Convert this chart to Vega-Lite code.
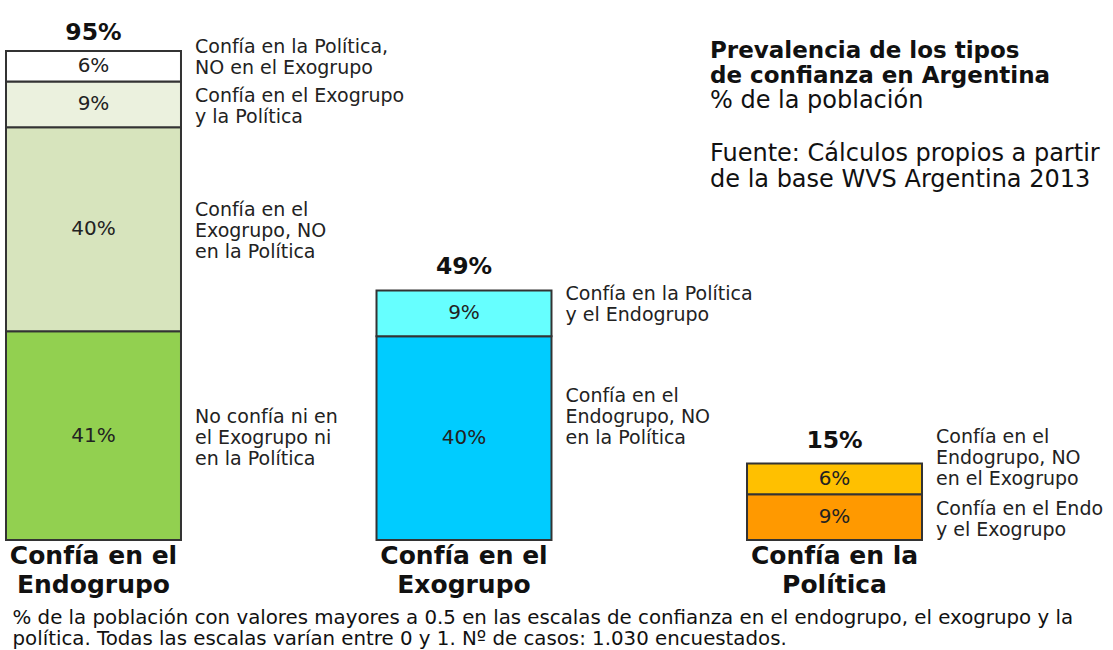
{
  "$schema": "https://vega.github.io/schema/vega-lite/v6.json",
  "width": 916,
  "height": 540,
  "autosize": {"type": "none"},
  "padding": {"left": 6, "right": 191, "top": 0, "bottom": 110},
  "background": "white",
  "config": {"view": {"stroke": null}, "font": "DejaVu Sans"},
  "datasets": {
    "segmentos": [
      {"categoria": "Confía en el|Endogrupo", "tipo": "No confía ni en|el Exogrupo ni|en la Política", "valor": 41, "orden": 1},
      {"categoria": "Confía en el|Endogrupo", "tipo": "Confía en el|Exogrupo, NO|en la Política", "valor": 40, "orden": 2},
      {"categoria": "Confía en el|Endogrupo", "tipo": "Confía en el Exogrupo|y la Política", "valor": 9, "orden": 3},
      {"categoria": "Confía en el|Endogrupo", "tipo": "Confía en la Política,|NO en el Exogrupo", "valor": 6, "orden": 4},
      {"categoria": "Confía en el|Exogrupo", "tipo": "Confía en el|Endogrupo, NO|en la Política", "valor": 40, "orden": 1},
      {"categoria": "Confía en el|Exogrupo", "tipo": "Confía en la Política|y el Endogrupo", "valor": 9, "orden": 2},
      {"categoria": "Confía en la|Política", "tipo": "Confía en el Endo|y el Exogrupo", "valor": 9, "orden": 1},
      {"categoria": "Confía en la|Política", "tipo": "Confía en el|Endogrupo, NO|en el Exogrupo", "valor": 6, "orden": 2}
    ],
    "totales": [
      {"categoria": "Confía en el|Endogrupo", "total": 95},
      {"categoria": "Confía en el|Exogrupo", "total": 49},
      {"categoria": "Confía en la|Política", "total": 15}
    ]
  },
  "title": {
    "text": ["Prevalencia de los tipos", "de confianza en Argentina"],
    "subtitle": ["% de la población", "\u200b", "Fuente: Cálculos propios a partir", "de la base WVS Argentina 2013"],
    "anchor": "start",
    "frame": "group",
    "dx": 704,
    "dy": 192,
    "offset": 0,
    "fontSize": 23,
    "fontWeight": "bold",
    "color": "#111",
    "lineHeight": 25,
    "subtitleFontSize": 24,
    "subtitleColor": "#111",
    "subtitleLineHeight": 26.5,
    "subtitlePadding": 1
  },
  "encoding": {
    "x": {
      "field": "categoria",
      "type": "nominal",
      "sort": null,
      "scale": {
        "domain": ["Confía en el|Endogrupo", "Confía en el|Exogrupo", "Confía en la|Política"],
        "paddingInner": 0.5277,
        "paddingOuter": 0
      },
      "axis": {
        "domain": false,
        "ticks": false,
        "labelAngle": 0,
        "labelExpr": "split(datum.label, '|')",
        "labelFontSize": 25,
        "labelFontWeight": "bold",
        "labelColor": "#111",
        "labelLineHeight": 29,
        "labelBaseline": "top",
        "labelPadding": 3,
        "labelOverlap": false,
        "labelLimit": 0,
        "title": ["% de la población con valores mayores a 0.5 en las escalas de confianza en el endogrupo, el exogrupo y la", "política. Todas las escalas varían entre 0 y 1. Nº de casos: 1.030 encuestados."],
        "titleFontSize": 19.8,
        "titleFontWeight": "normal",
        "titleColor": "#111",
        "titleAnchor": "start",
        "titleAlign": "left",
        "titleX": 6,
        "titleLineHeight": 21.5,
        "titlePadding": 10
      }
    }
  },
  "layer": [
    {
      "data": {"name": "segmentos"},
      "transform": [
        {"stack": "valor", "groupby": ["categoria"], "sort": [{"field": "orden"}], "as": ["y0", "y1"]}
      ],
      "mark": {"type": "bar", "stroke": "#333", "strokeWidth": 2},
      "encoding": {
        "y": {"field": "y1", "type": "quantitative", "scale": {"domain": [0, 106], "nice": false, "zero": true}, "axis": null},
        "y2": {"field": "y0"},
        "color": {
          "field": "tipo",
          "type": "nominal",
          "legend": null,
          "scale": {
            "domain": [
              "No confía ni en|el Exogrupo ni|en la Política",
              "Confía en el|Exogrupo, NO|en la Política",
              "Confía en el Exogrupo|y la Política",
              "Confía en la Política,|NO en el Exogrupo",
              "Confía en el|Endogrupo, NO|en la Política",
              "Confía en la Política|y el Endogrupo",
              "Confía en el Endo|y el Exogrupo",
              "Confía en el|Endogrupo, NO|en el Exogrupo"
            ],
            "range": ["#92d050", "#d7e4bd", "#ebf1de", "#ffffff", "#00ccff", "#66ffff", "#ff9900", "#ffc000"]
          }
        }
      }
    },
    {
      "data": {"name": "segmentos"},
      "transform": [
        {"stack": "valor", "groupby": ["categoria"], "sort": [{"field": "orden"}], "as": ["y0", "y1"]},
        {"calculate": "(datum.y0 + datum.y1) / 2", "as": "medio"},
        {"calculate": "datum.valor + '%'", "as": "pct"}
      ],
      "mark": {"type": "text", "fontSize": 20, "color": "#222", "baseline": "middle"},
      "encoding": {
        "y": {"field": "medio", "type": "quantitative"},
        "text": {"field": "pct"}
      }
    },
    {
      "data": {"name": "segmentos"},
      "transform": [
        {"stack": "valor", "groupby": ["categoria"], "sort": [{"field": "orden"}], "as": ["y0", "y1"]},
        {"calculate": "(datum.y0 + datum.y1) / 2", "as": "medio"},
        {"filter": {"field": "tipo", "oneOf": ["Confía en la Política,|NO en el Exogrupo", "Confía en el|Exogrupo, NO|en la Política", "No confía ni en|el Exogrupo ni|en la Política", "Confía en la Política|y el Endogrupo"]}}
      ],
      "mark": {"type": "text", "fontSize": 19, "color": "#222", "align": "left", "baseline": "middle", "lineBreak": "|", "lineHeight": 21, "dx": 14, "dy": -19},
      "encoding": {
        "x": {"field": "categoria", "type": "nominal", "bandPosition": 1},
        "y": {"field": "medio", "type": "quantitative"},
        "text": {"field": "tipo"}
      }
    },
    {
      "data": {"name": "segmentos"},
      "transform": [
        {"stack": "valor", "groupby": ["categoria"], "sort": [{"field": "orden"}], "as": ["y0", "y1"]},
        {"calculate": "(datum.y0 + datum.y1) / 2", "as": "medio"},
        {"filter": {"field": "tipo", "oneOf": ["Confía en el Exogrupo|y la Política", "Confía en el Endo|y el Exogrupo"]}}
      ],
      "mark": {"type": "text", "fontSize": 19, "color": "#222", "align": "left", "baseline": "middle", "lineBreak": "|", "lineHeight": 21, "dx": 14, "dy": -8},
      "encoding": {
        "x": {"field": "categoria", "type": "nominal", "bandPosition": 1},
        "y": {"field": "medio", "type": "quantitative"},
        "text": {"field": "tipo"}
      }
    },
    {
      "data": {"name": "segmentos"},
      "transform": [
        {"stack": "valor", "groupby": ["categoria"], "sort": [{"field": "orden"}], "as": ["y0", "y1"]},
        {"calculate": "(datum.y0 + datum.y1) / 2", "as": "medio"},
        {"filter": {"field": "tipo", "oneOf": ["Confía en el|Endogrupo, NO|en la Política", "Confía en el|Endogrupo, NO|en el Exogrupo"]}}
      ],
      "mark": {"type": "text", "fontSize": 19, "color": "#222", "align": "left", "baseline": "middle", "lineBreak": "|", "lineHeight": 21, "dx": 14, "dy": -42},
      "encoding": {
        "x": {"field": "categoria", "type": "nominal", "bandPosition": 1},
        "y": {"field": "medio", "type": "quantitative"},
        "text": {"field": "tipo"}
      }
    },
    {
      "data": {"name": "totales"},
      "transform": [{"calculate": "datum.total + '%'", "as": "etiqueta"}],
      "mark": {"type": "text", "fontSize": 23.5, "fontWeight": "bold", "color": "#111", "baseline": "bottom", "dy": -11},
      "encoding": {
        "y": {"field": "total", "type": "quantitative"},
        "text": {"field": "etiqueta"}
      }
    }
  ]
}
